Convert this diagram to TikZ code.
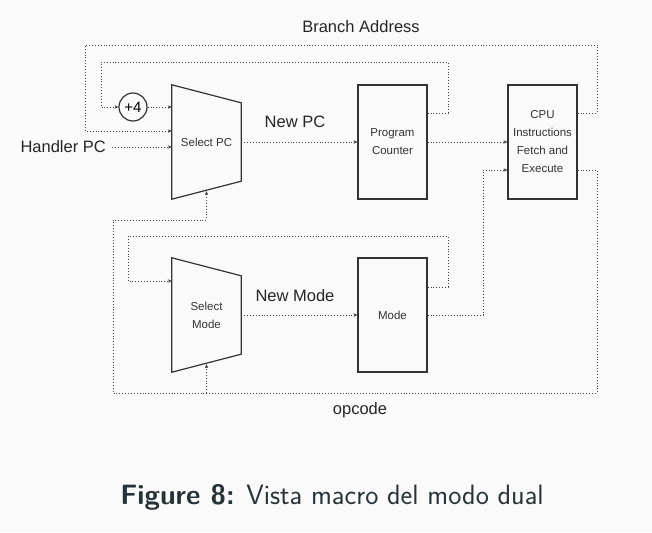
\documentclass[tikz,border=0pt]{standalone}
\usepackage{fontspec}
\setmainfont{Liberation Sans}
\usetikzlibrary{arrows.meta}
\definecolor{capcol}{rgb}{0.15,0.2,0.22}
\begin{document}
\begin{tikzpicture}
    [x=1pt,y=-1pt,
     box/.style={draw=black!80,line width=1.2pt},
     blk/.style={box,rectangle,minimum width=69pt,minimum height=114pt,inner sep=0pt,align=center,font=\fontsize{11.5}{18}\selectfont,text=black!80},
     mux/.style={rectangle,minimum width=69pt,minimum height=114pt,inner sep=0pt,align=center,font=\fontsize{11.5}{18}\selectfont,text=black!80},
     wire/.style={dotted,line width=0.9pt,draw=black!75},
     arr/.style={wire,-{Stealth[length=4pt,width=3.5pt]}},
     lbl/.style={font=\fontsize{16.5}{19}\selectfont,text=black!85}]
    \fill[black!2] (0,0) rectangle (652,532);

    \node[mux] (sPC) at (206.5,142) {Select PC};
    \node[blk] (PC) at (392.5,142) {Program\\Counter};
    \node[blk] (CPU) at (542.5,142) {CPU\\Instructions\\Fetch and\\Execute};
    \node[mux] (sMode) at (206.5,315) {Select\\Mode};
    \node[blk] (Mode) at (392.5,315) {Mode};
    \node[circle,box,minimum size=28pt,inner sep=0pt,font=\fontsize{15}{17}\selectfont] (inc) at (133,107) {+4};

    \foreach \m in {sPC,sMode}
      \draw[box] (\m.north west) -- ([yshift=-18pt]\m.north east) -- ([yshift=18pt]\m.south east) -- (\m.south west) -- cycle;

    \node[lbl] (brAddr) at (361,27) {Branch Address};
    \node[lbl] (newPC) at (295,122) {New PC};
    \node[lbl] (newMode) at (295,296) {New Mode};
    \node[lbl] (opc) at (360,410) {opcode};
    \node[lbl,anchor=east,inner sep=0pt] (hPC) at (106,147) {Handler PC};
    \node[font=\sffamily\fontsize{28}{32}\selectfont,text=capcol] (cap) at (332,497) {\textbf{Figure 8:} Vista macro del modo dual};

    \draw[arr] (sPC.east) -- (PC.west);
    \draw[arr] (PC.east) -- (CPU.west);
    \draw[arr] (sMode.east) -- (Mode.west);
    \draw[arr] (inc.east) -- (sPC.west |- inc.east);
    \draw[arr] ([xshift=6pt]hPC.east) -- (sPC.west |- hPC.east);
    \draw[arr] (PC.east |- 0,113) -| (448,62) -| (101,107) -- (inc.west);
    \draw[arr] (CPU.east |- 0,113) -| (597,45) -| (85,131) -- (sPC.west |- 0,131);
    \draw[arr] (CPU.east |- 0,170) -| (597,393) -| (113,220) -| ([yshift=8pt]sPC.south);
    \coordinate (split) at (sMode.south |- 0,393);
    \draw[arr] (split) -- ([yshift=8pt]sMode.south);
    \draw[arr] (Mode.east |- 0,287) -| (448,236) -| (128,281) -- (sMode.west |- 0,281);
    \draw[arr] (Mode.east) -| (483,170) -- (CPU.west |- 0,170);
\end{tikzpicture}
\end{document}
